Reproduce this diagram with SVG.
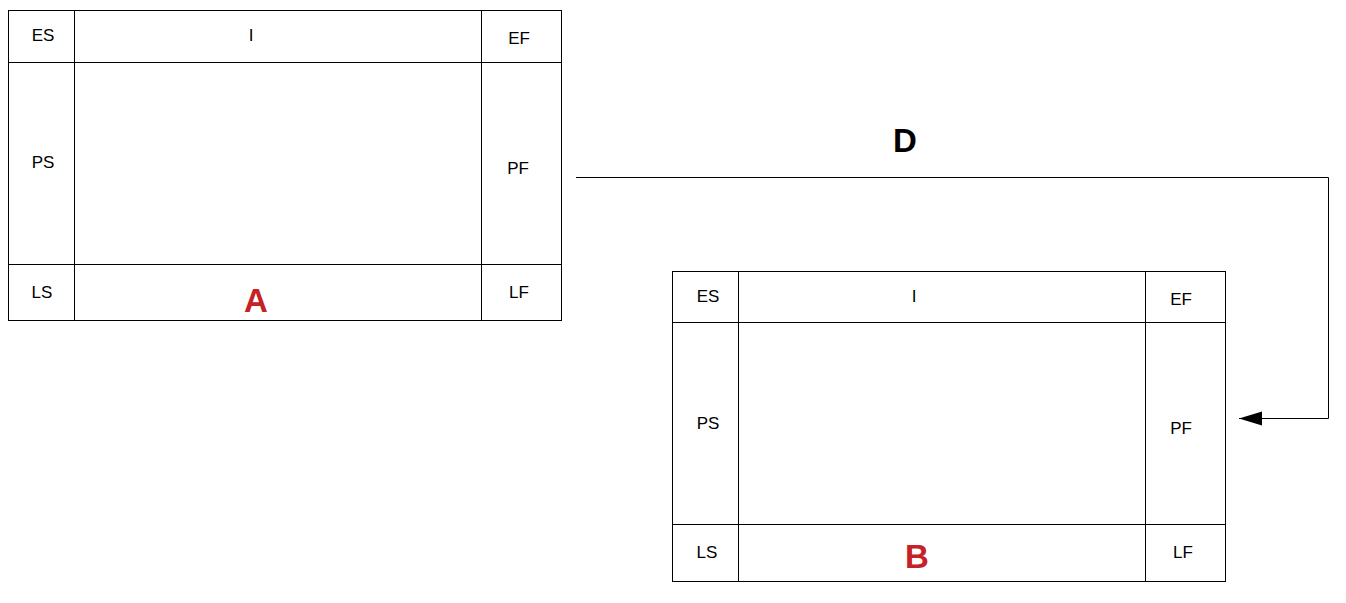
<svg xmlns="http://www.w3.org/2000/svg" width="1346" height="603" viewBox="0 0 1346 603">
<defs>
<style>
.box{fill:#fff;stroke:#000;stroke-width:1}
.ln{stroke:#000;stroke-width:1;fill:none}
.t{font-family:"Liberation Sans",Arial,sans-serif;font-size:17px;fill:#000;text-anchor:middle}
.big{font-family:"Liberation Sans",Arial,sans-serif;font-size:33px;font-weight:bold;text-anchor:middle}
.red{fill:#c62127}
</style>
<marker id="arr" markerWidth="24" markerHeight="16" refX="23" refY="8" orient="auto" markerUnits="userSpaceOnUse">
<path d="M0,1 L23,8 L0,15 Z" fill="#000"/>
</marker>
</defs>
<rect width="1346" height="603" fill="#fff"/>
<g id="nodeA">
<rect class="box" x="8.5" y="10.5" width="553" height="310"/>
<line class="ln" x1="74.5" y1="10.5" x2="74.5" y2="320.5"/>
<line class="ln" x1="481.5" y1="10.5" x2="481.5" y2="320.5"/>
<line class="ln" x1="8.5" y1="62.5" x2="561.5" y2="62.5"/>
<line class="ln" x1="8.5" y1="264.5" x2="561.5" y2="264.5"/>
<text class="t" x="43" y="41">ES</text>
<text class="t" x="251" y="41">I</text>
<text class="t" x="519" y="44">EF</text>
<text class="t" x="43" y="168">PS</text>
<text class="t" x="518" y="174">PF</text>
<text class="t" x="42" y="298">LS</text>
<text class="t" x="519" y="298">LF</text>
<text class="big red" x="256" y="312">A</text>
</g>
<g id="nodeB">
<rect class="box" x="672.5" y="271.5" width="553" height="310"/>
<line class="ln" x1="738.5" y1="271.5" x2="738.5" y2="581.5"/>
<line class="ln" x1="1145.5" y1="271.5" x2="1145.5" y2="581.5"/>
<line class="ln" x1="672.5" y1="322.5" x2="1225.5" y2="322.5"/>
<line class="ln" x1="672.5" y1="524.5" x2="1225.5" y2="524.5"/>
<text class="t" x="708" y="302">ES</text>
<text class="t" x="914" y="302">I</text>
<text class="t" x="1181" y="305">EF</text>
<text class="t" x="708" y="429">PS</text>
<text class="t" x="1181" y="434">PF</text>
<text class="t" x="707" y="558">LS</text>
<text class="t" x="1183" y="558">LF</text>
<text class="big red" x="917" y="568">B</text>
</g>
<g id="connectors">
<polyline class="ln" points="576,177.5 1328.5,177.5 1328.5,418.5 1239,418.5" marker-end="url(#arr)"/>
<text class="big" x="905" y="152" fill="#000">D</text>
</g>
</svg>
